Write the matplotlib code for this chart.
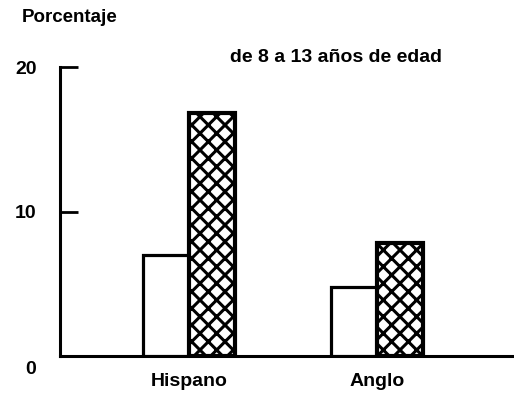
import matplotlib
matplotlib.use("Agg")
import matplotlib.pyplot as plt
import matplotlib.transforms as mtransforms
import numpy as np

categories = ["Hispano", "Anglo"]
blanco = [7.0, 4.8]
rayado = [16.8, 7.8]
yticks = [0, 10, 20]
ytick_labels = ["0", "10", "20"]

plt.rcParams['font.family'] = ['Liberation Sans', 'DejaVu Sans']
plt.rcParams['hatch.linewidth'] = 2.2
plt.rcParams['hatch.color'] = 'black'

fig = plt.figure(figsize=(5.14, 3.94), dpi=100)
ax = fig.add_axes([60/514, 38/394, 454/514, 289/394])

x = np.arange(len(categories))
w = 0.245
ax.bar(x - w/2, blanco, width=w, facecolor='white', edgecolor='black', linewidth=2.3, zorder=3)
ax.bar(x + w/2, rayado, width=w, facecolor='white', edgecolor='black', hatch='xx', linewidth=3.0, zorder=3)

ax.set_xlim(-0.686, 1.729)
ax.set_ylim(0, 20)

for s in ['top', 'right']:
    ax.spines[s].set_visible(False)
ax.spines['left'].set_linewidth(2.2)
ax.spines['bottom'].set_linewidth(2.2)

ax.set_yticks(yticks)
ax.set_yticklabels(ytick_labels, fontsize=14, fontweight='bold')
ax.tick_params(axis='y', direction='in', length=13, width=2.0, pad=17)
ax.set_xticks(x)
ax.set_xticklabels(categories, fontsize=14, fontweight='bold')
ax.tick_params(axis='x', length=0, pad=12)

# shift the "0" label slightly down as in the reference
t0 = ax.yaxis.get_major_ticks()[0].label1
t0.set_transform(t0.get_transform() + mtransforms.ScaledTranslation(0, -12/100, fig.dpi_scale_trans))

fig.text(22/514, 1 - 17/394, "Porcentaje", fontsize=13.5, fontweight='bold', ha='left', va='center')
fig.text(336/514, 1 - 57/394, "de 8 a 13 años de edad", fontsize=14, fontweight='bold', ha='center', va='center')

fig.savefig("out.png", dpi=100)
